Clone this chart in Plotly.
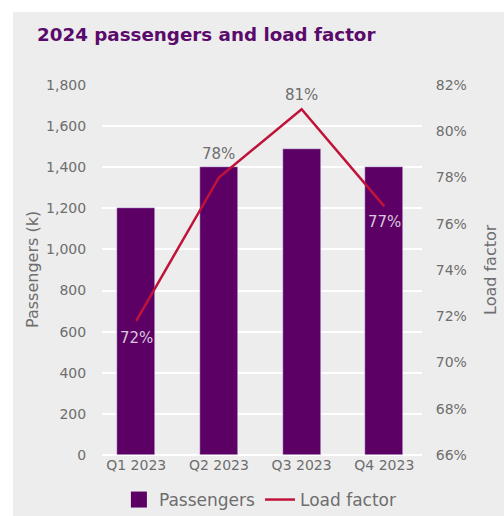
import plotly.graph_objects as go

quarters = ["Q1 2023", "Q2 2023", "Q3 2023", "Q4 2023"]
passengers = [1200, 1400, 1490, 1400]
load_factor = [71.8, 78.0, 80.95, 76.75]
lf_labels = ["72%", "78%", "81%", "77%"]
left_ticks = [0, 200, 400, 600, 800, 1000, 1200, 1400, 1600, 1800]
right_ticks = [66, 68, 70, 72, 74, 76, 78, 80, 82]
right_text = [f"{v}%" for v in right_ticks]

PURPLE = "#5c0066"
RED = "#c0133a"
GRAY = "#6e6e6e"
BG = "#ededed"
FONT = "DejaVu Sans"

xi = list(range(len(quarters)))

fig = go.Figure()
fig.add_trace(go.Bar(
    x=xi, y=passengers, name="Passengers", marker_color=PURPLE,
    width=0.46, yaxis="y", showlegend=False,
))
fig.add_trace(go.Scatter(
    x=[None], y=[None], name="Passengers", mode="markers",
    marker=dict(symbol="square", size=20, color=PURPLE), showlegend=True,
))
fig.add_trace(go.Scatter(
    x=xi, y=load_factor, name="Load factor", yaxis="y2",
    mode="lines", line=dict(color=RED, width=2.5),
))

L, R, T, B = 102, 82, 85, 61
W, H = 504, 516
pw, ph = W - L - R, H - T - B

def px(xp):
    return (xp - L) / pw

def py(yp):
    return (H - B - yp) / ph

label_shift = [-17, 24, 14, -16]
label_color = ["#d8c8da", GRAY, GRAY, "#d8c8da"]
label_anns = [
    dict(text=t, x=x, y=y, xref="x", yref="y2", yshift=s, showarrow=False,
         xanchor="center", yanchor="middle", font=dict(size=15, color=c))
    for t, x, y, s, c in zip(lf_labels, xi, load_factor, label_shift, label_color)
]

fig.update_layout(
    width=W, height=H,
    margin=dict(l=L, r=R, t=T, b=B, pad=0, autoexpand=False),
    paper_bgcolor="white", plot_bgcolor=BG,
    font=dict(family=FONT, color=GRAY, size=14),
    showlegend=True,
    legend=dict(orientation="h", x=0.495, xanchor="center", y=py(500), yanchor="middle",
                font=dict(size=17, color=GRAY), bgcolor="rgba(0,0,0,0)",
                itemwidth=30, tracegroupgap=0),
    bargap=0,
    title=dict(text="<b>2024 passengers and load factor</b>", x=37 / W, xanchor="left",
               xref="container", y=1 - 35 / H, yanchor="middle", yref="container",
               font=dict(family=FONT, size=18.3, color="#5a0a6b")),
    xaxis=dict(range=[-0.414, 3.456], tickmode="array", tickvals=xi, ticktext=quarters,
               showgrid=False, zeroline=False, showline=False, ticks="",
               tickfont=dict(size=14, color=GRAY)),
    yaxis=dict(range=[0, 1800], tickmode="array", tickvals=left_ticks, tickformat=",",
               showgrid=True,
               gridcolor="white", gridwidth=1.5, zeroline=True, zerolinecolor="white",
               zerolinewidth=1.5, ticks="outside", ticklen=12, tickcolor="rgba(0,0,0,0)",
               tickfont=dict(size=14, color=GRAY)),
    yaxis2=dict(range=[66, 82], tickmode="array", tickvals=right_ticks, ticktext=right_text,
                overlaying="y", side="right", showgrid=False, zeroline=False,
                ticks="outside", ticklen=10, tickcolor="rgba(0,0,0,0)",
                tickfont=dict(size=14, color=GRAY)),
    shapes=[dict(type="rect", xref="paper", yref="paper", x0=px(13), x1=px(W + 5),
                 y0=py(H + 5), y1=py(12), fillcolor=BG, line=dict(width=0), layer="below")],
    annotations=[
        dict(text="Passengers (k)", textangle=-90, x=px(32), y=py(270), xref="paper",
             yref="paper", xanchor="center", yanchor="middle", showarrow=False,
             font=dict(size=16, color=GRAY)),
        dict(text="Load factor", textangle=-90, x=px(490), y=py(270), xref="paper",
             yref="paper", xanchor="center", yanchor="middle", showarrow=False,
             font=dict(size=16, color=GRAY)),
    ] + label_anns,
)

fig.write_html("out.html")
